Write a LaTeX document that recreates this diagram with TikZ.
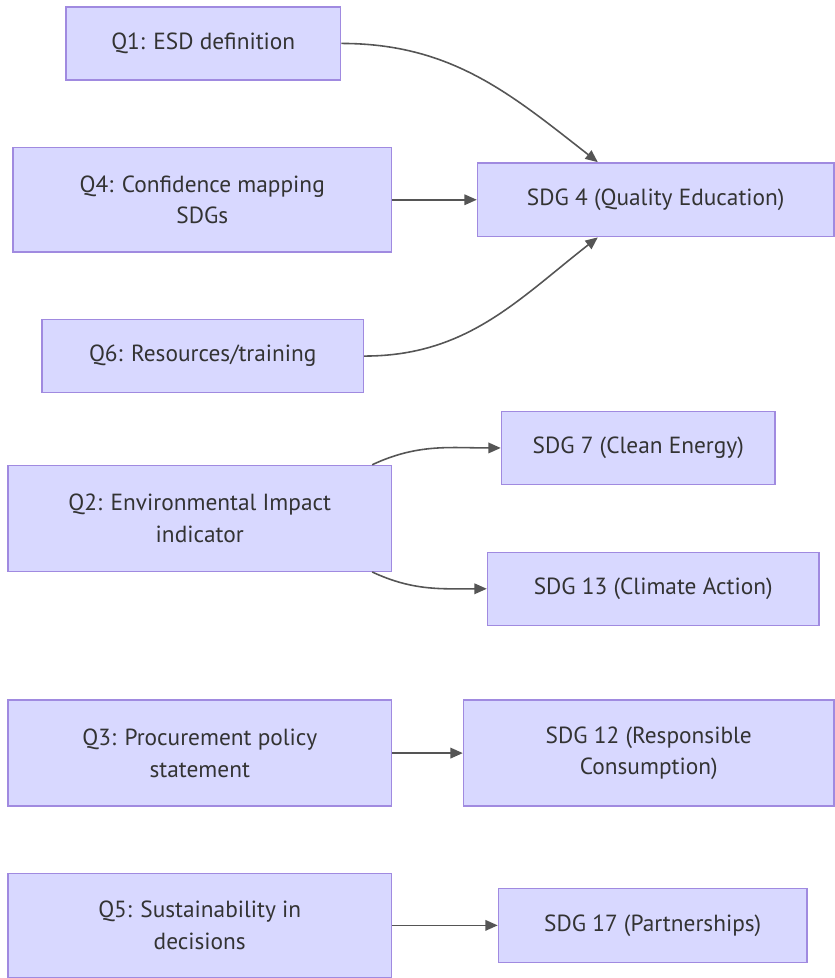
\documentclass[tikz,border=0pt]{standalone}
\usepackage{fontspec}
\setmainfont{PT Sans}
\usepackage{tikz}
\usepackage{xcolor}
\usetikzlibrary{arrows.meta}
\definecolor{boxfill}{HTML}{D8D8FF}
\definecolor{boxline}{HTML}{A08AE0}
\definecolor{txt}{HTML}{333333}
\definecolor{edge}{HTML}{555555}

\begin{document}
\begin{tikzpicture}[x=0.02cm,y=-0.02cm,
  box/.style={draw=boxline,fill=boxfill,line width=0.8pt,text=txt,align=center,
    font=\fontsize{13.3}{18}\selectfont,inner sep=0pt},
  link/.style={draw=edge,line width=0.9pt,-{Triangle[length=7pt,width=6pt]}}]
\fill[white] (0,0) rectangle (835,978);
\node[box,minimum width=5.5cm,minimum height=1.46cm] (q1) at (203.5,43.5) {Q1: ESD definition};
\node[box,minimum width=7.58cm,minimum height=2.1cm] (q4) at (202.5,200) {Q4: Confidence mapping\\SDGs};
\node[box,minimum width=6.44cm,minimum height=1.46cm] (q6) at (203,356.5) {Q6: Resources/training};
\node[box,minimum width=7.14cm,minimum height=1.48cm] (sdg4) at (656.5,200) {SDG 4 (Quality Education)};
\node[box,minimum width=7.68cm,minimum height=2.12cm] (q2) at (200,519) {Q2: Environmental Impact\\indicator};
\node[box,minimum width=5.48cm,minimum height=1.46cm] (sdg7) at (639,448.5) {SDG 7 (Clean Energy)};
\node[box,minimum width=6.64cm,minimum height=1.46cm] (sdg13) at (654,589.5) {SDG 13 (Climate Action)};
\node[box,minimum width=7.68cm,minimum height=2.12cm] (q3) at (200,754) {Q3: Procurement policy\\statement};
\node[box,minimum width=7.42cm,minimum height=2.12cm] (sdg12) at (649.5,754) {SDG 12 (Responsible\\Consumption)};
\node[box,minimum width=7.68cm,minimum height=2.08cm] (q5) at (200,926.5) {Q5: Sustainability in\\decisions};
\node[box,minimum width=6.18cm,minimum height=1.48cm] (sdg17) at (653.5,926.5) {SDG 17 (Partnerships)};
\draw[link] (q1.east) to[out=0,in=142] ([xshift=-1.16cm]sdg4.north);
\draw[link] (q4.east) -- (sdg4.west);
\draw[link] (q6.east) to[out=0,in=-142] ([xshift=-1.16cm]sdg4.south);
\draw[link] ([xshift=-0.4cm]q2.north east) to[out=25,in=180] (sdg7.west);
\draw[link] ([xshift=-0.4cm]q2.south east) to[out=-25,in=180] (sdg13.west);
\draw[link] (q3.east) -- (sdg12.west);
\draw[link] (q5.east) -- (sdg17.west);
\end{tikzpicture}
\end{document}
